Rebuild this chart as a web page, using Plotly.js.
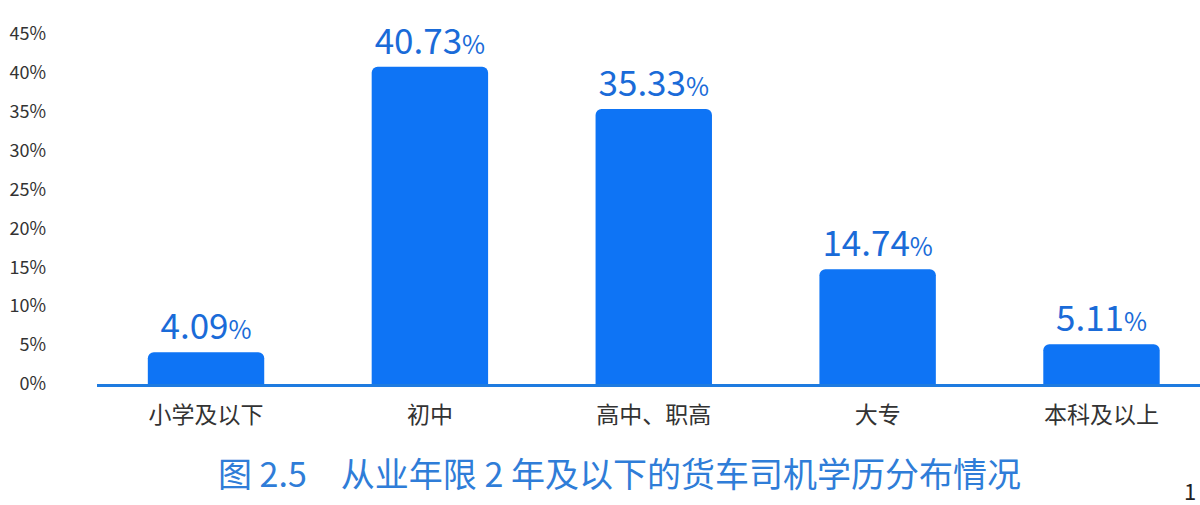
<!DOCTYPE html>
<html><head><meta charset="utf-8">
<script src="https://cdn.plot.ly/plotly-3.0.1.min.js"></script>
<style>html,body{margin:0;padding:0;background:#fff;}#chart{width:1200px;height:505px;}</style>
</head><body><div id="chart"></div>
<script>
var categories = ['小学及以下', '初中', '高中、职高', '大专', '本科及以上'];
var values = [4.09, 40.73, 35.33, 14.74, 5.11];
var tickVals = [0, 5, 10, 15, 20, 25, 30, 35, 40, 45];
var tickText = ['0%', '5%', '10%', '15%', '20%', '25%', '30%', '35%', '40%', '45%'];
var titleText = '图 2.5　从业年限 2 年及以下的货车司机学历分布情况';

var fontFam = '"Noto Sans CJK SC", "Noto Sans", sans-serif';
var trace = {
  type: 'bar',
  x: categories,
  y: values,
  marker: {color: '#0E74F5', cornerradius: 6},
  texttemplate: '%{y:.2f}<span style="font-size:25px">%</span>',
  textposition: 'outside',
  textfont: {family: fontFam, size: 35, color: '#1A6BD8'},
  cliponaxis: false,
  hoverinfo: 'skip'
};
var layout = {
  width: 1200, height: 505,
  margin: {l: 97, r: 0, t: 18, b: 121},
  paper_bgcolor: '#fff', plot_bgcolor: '#fff',
  bargap: 0.48,
  showlegend: false,
  font: {family: fontFam},
  xaxis: {
    range: [-0.487, 4.44],
    showline: true, linecolor: '#1E7BE0', linewidth: 3,
    showgrid: false, zeroline: false,
    ticks: '', ticklabelstandoff: 8,
    tickfont: {family: fontFam, size: 23, color: '#333'}
  },
  yaxis: {
    range: [0, 47],
    tickvals: tickVals, ticktext: tickText,
    showgrid: false, zeroline: false, showline: false,
    ticks: '', ticklabelstandoff: 50,
    tickfont: {family: fontFam, size: 18, color: '#333'}
  },
  annotations: [
    {text: titleText, xref: 'paper', yref: 'paper', x: 0.474, y: -0.243, xanchor: 'center', yanchor: 'middle', showarrow: false,
     font: {family: fontFam, size: 34, color: '#2F7DD8'}},
    {text: '1', xref: 'paper', yref: 'paper', x: 1.0, y: -0.29, xanchor: 'right', yanchor: 'middle', xshift: -2, showarrow: false,
     font: {family: fontFam, size: 22, color: '#222'}}
  ]
};
Plotly.newPlot('chart', [trace], layout, {displayModeBar: false, staticPlot: true});
</script></body></html>
